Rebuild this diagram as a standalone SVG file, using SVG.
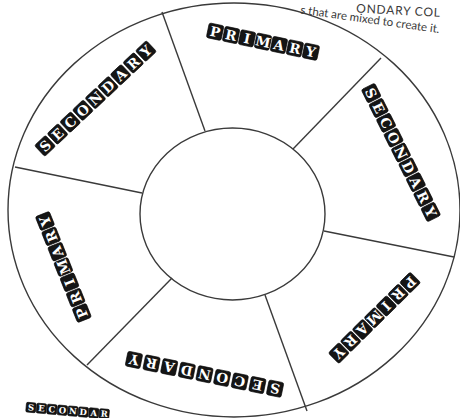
<svg xmlns="http://www.w3.org/2000/svg" xmlns:xlink="http://www.w3.org/1999/xlink" width="460" height="418" viewBox="0 0 460 418">
<style>
.ln{fill:none;stroke:#3a3a3a;stroke-width:1.4}
.tl{fill:#151515;stroke:#000;stroke-width:0.6}
.lt{fill:#fff;font-family:"DejaVu Serif","Liberation Serif",serif;font-weight:bold;font-size:13.5px;text-anchor:middle;dominant-baseline:central}
.sm{font-size:8.5px}
.cap{fill:#3a3a3a;font-family:"Lato","Open Sans",sans-serif;font-size:11.5px}
.cap1{font-size:12px;letter-spacing:0.8px}
</style>
<defs>
<rect id="tile" class="tl" x="-7.5" y="-7.5" width="15" height="15" rx="2"/>
<rect id="stile" class="tl" x="-4.9" y="-4.9" width="9.8" height="9.8" rx="1.5"/>
</defs>
<rect width="460" height="418" fill="#ffffff"/>
<g id="instructions">
<text class="cap cap1" transform="translate(356,12.5) rotate(3)">ONDARY COL</text>
<text class="cap" transform="translate(300,13.5) rotate(8)">s that are mixed to create it.</text>
</g>
<g id="outer-ring"><ellipse class="ln" cx="234" cy="210" rx="226" ry="207"/></g>
<g id="center"><ellipse class="ln" cx="232.5" cy="214" rx="92.5" ry="86"/></g>
<g id="connectors">
<line class="ln" x1="162" y1="12" x2="205" y2="131"/>
<line class="ln" x1="381" y1="58" x2="293" y2="149"/>
<line class="ln" x1="454" y1="257" x2="324" y2="231"/>
<line class="ln" x1="307" y1="411" x2="265" y2="295"/>
<line class="ln" x1="87" y1="365" x2="172" y2="278"/>
<line class="ln" x1="15" y1="167" x2="142" y2="193"/>
</g>
<g id="label-top-primary" transform="translate(263,41.7) rotate(11.8)">
<use xlink:href="#tile" x="-48.9"/><text class="lt" x="-48.9">P</text>
<use xlink:href="#tile" x="-32.6"/><text class="lt" x="-32.6">R</text>
<use xlink:href="#tile" x="-16.3"/><text class="lt" x="-16.3">I</text>
<use xlink:href="#tile" x="0"/><text class="lt" x="0">M</text>
<use xlink:href="#tile" x="16.3"/><text class="lt" x="16.3">A</text>
<use xlink:href="#tile" x="32.6"/><text class="lt" x="32.6">R</text>
<use xlink:href="#tile" x="48.9"/><text class="lt" x="48.9">Y</text>
</g>
<g id="label-upper-left-secondary" transform="translate(95.5,98.5) rotate(-43.2)">
<use xlink:href="#tile" x="-69.2"/><text class="lt" x="-69.2">S</text>
<use xlink:href="#tile" x="-51.9"/><text class="lt" x="-51.9">E</text>
<use xlink:href="#tile" x="-34.6"/><text class="lt" x="-34.6">C</text>
<use xlink:href="#tile" x="-17.3"/><text class="lt" x="-17.3">O</text>
<use xlink:href="#tile" x="0"/><text class="lt" x="0">N</text>
<use xlink:href="#tile" x="17.3"/><text class="lt" x="17.3">D</text>
<use xlink:href="#tile" x="34.6"/><text class="lt" x="34.6">A</text>
<use xlink:href="#tile" x="51.9"/><text class="lt" x="51.9">R</text>
<use xlink:href="#tile" x="69.2"/><text class="lt" x="69.2">Y</text>
</g>
<g id="label-right-secondary" transform="translate(401,152.5) rotate(63.4)">
<use xlink:href="#tile" x="-66.4"/><text class="lt" x="-66.4">S</text>
<use xlink:href="#tile" x="-49.8"/><text class="lt" x="-49.8">E</text>
<use xlink:href="#tile" x="-33.2"/><text class="lt" x="-33.2">C</text>
<use xlink:href="#tile" x="-16.6"/><text class="lt" x="-16.6">O</text>
<use xlink:href="#tile" x="0"/><text class="lt" x="0">N</text>
<use xlink:href="#tile" x="16.6"/><text class="lt" x="16.6">D</text>
<use xlink:href="#tile" x="33.2"/><text class="lt" x="33.2">A</text>
<use xlink:href="#tile" x="49.8"/><text class="lt" x="49.8">R</text>
<use xlink:href="#tile" x="66.4"/><text class="lt" x="66.4">Y</text>
</g>
<g id="label-lower-right-primary" transform="translate(374.5,317.8) rotate(135.3)">
<use xlink:href="#tile" x="-50.1"/><text class="lt" x="-50.1">P</text>
<use xlink:href="#tile" x="-33.4"/><text class="lt" x="-33.4">R</text>
<use xlink:href="#tile" x="-16.7"/><text class="lt" x="-16.7">I</text>
<use xlink:href="#tile" x="0"/><text class="lt" x="0">M</text>
<use xlink:href="#tile" x="16.7"/><text class="lt" x="16.7">A</text>
<use xlink:href="#tile" x="33.4"/><text class="lt" x="33.4">R</text>
<use xlink:href="#tile" x="50.1"/><text class="lt" x="50.1">Y</text>
</g>
<g id="label-bottom-secondary" transform="translate(204.5,374.3) rotate(191.5)">
<use xlink:href="#tile" x="-72"/><text class="lt" x="-72">S</text>
<use xlink:href="#tile" x="-54"/><text class="lt" x="-54">E</text>
<use xlink:href="#tile" x="-36"/><text class="lt" x="-36">C</text>
<use xlink:href="#tile" x="-18"/><text class="lt" x="-18">O</text>
<use xlink:href="#tile" x="0"/><text class="lt" x="0">N</text>
<use xlink:href="#tile" x="18"/><text class="lt" x="18">D</text>
<use xlink:href="#tile" x="36"/><text class="lt" x="36">A</text>
<use xlink:href="#tile" x="54"/><text class="lt" x="54">R</text>
<use xlink:href="#tile" x="72"/><text class="lt" x="72">Y</text>
</g>
<g id="label-left-primary" transform="translate(63.4,267) rotate(248.2)">
<use xlink:href="#tile" x="-49.5"/><text class="lt" x="-49.5">P</text>
<use xlink:href="#tile" x="-33"/><text class="lt" x="-33">R</text>
<use xlink:href="#tile" x="-16.5"/><text class="lt" x="-16.5">I</text>
<use xlink:href="#tile" x="0"/><text class="lt" x="0">M</text>
<use xlink:href="#tile" x="16.5"/><text class="lt" x="16.5">A</text>
<use xlink:href="#tile" x="33"/><text class="lt" x="33">R</text>
<use xlink:href="#tile" x="49.5"/><text class="lt" x="49.5">Y</text>
</g>
<g id="label-corner-secondary" transform="translate(31,407.5) rotate(5)">
<use xlink:href="#stile" x="0"/><text class="lt sm" x="0">S</text>
<use xlink:href="#stile" x="10.5"/><text class="lt sm" x="10.5">E</text>
<use xlink:href="#stile" x="21"/><text class="lt sm" x="21">C</text>
<use xlink:href="#stile" x="31.5"/><text class="lt sm" x="31.5">O</text>
<use xlink:href="#stile" x="42"/><text class="lt sm" x="42">N</text>
<use xlink:href="#stile" x="52.5"/><text class="lt sm" x="52.5">D</text>
<use xlink:href="#stile" x="63"/><text class="lt sm" x="63">A</text>
<use xlink:href="#stile" x="73.5"/><text class="lt sm" x="73.5">R</text>
</g>
</svg>
